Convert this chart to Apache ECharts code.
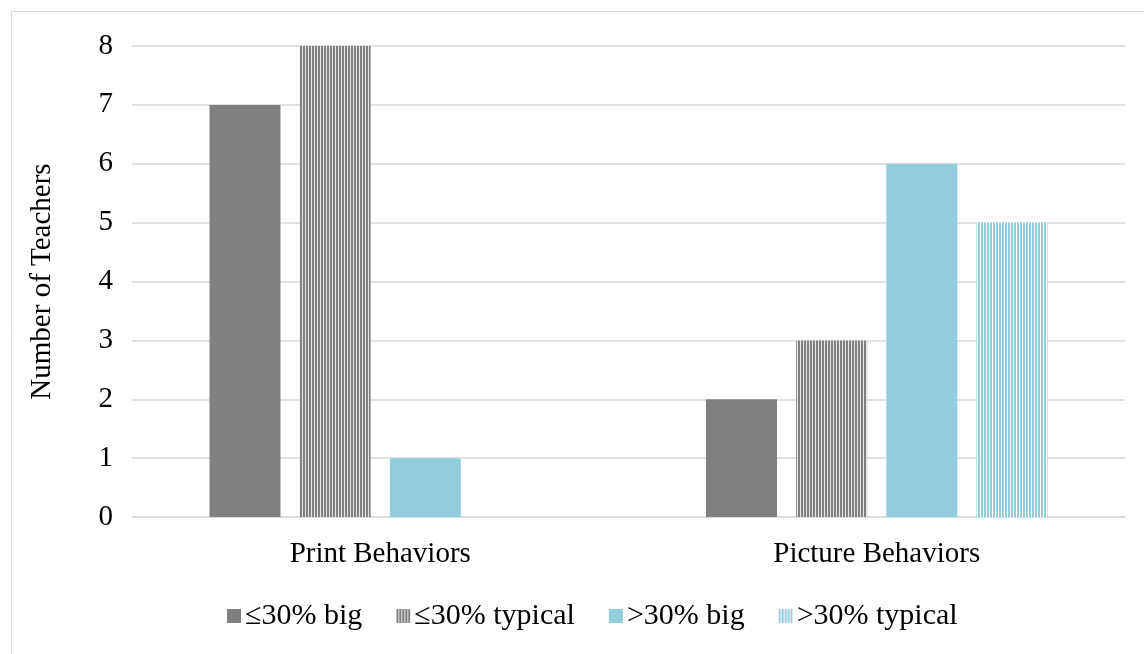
<!DOCTYPE html>
<html><head><meta charset="utf-8">
<script src="https://cdn.jsdelivr.net/npm/echarts@6/dist/echarts.min.js"></script>
<style>html,body{margin:0;padding:0;background:#fff}#c{width:1144px;height:654px}</style>
</head><body><div id="c"></div>
<script>
const categories = ['Print Behaviors', 'Picture Behaviors'];
const seriesNames = ['≤30% big', '≤30% typical', '>30% big', '>30% typical'];
const smallBig = [7, 2];
const smallTypical = [8, 3];
const largeBig = [1, 6];
const largeTypical = [0, 5];
const yTicks = [0, 1, 2, 3, 4, 5, 6, 7, 8];
const yTitle = 'Number of Teachers';

function stripe(fg, bg) {
  const c = document.createElement('canvas');
  c.width = 3; c.height = 4;
  const g = c.getContext('2d');
  g.fillStyle = bg; g.fillRect(0, 0, 3, 4);
  g.fillStyle = fg; g.fillRect(0, 0, 2, 4);
  return { image: c, repeat: 'repeat' };
}
const gray = '#808080', blue = '#92CDDC';
const font = 'Liberation Serif, Times New Roman, serif';
const chart = echarts.init(document.getElementById('c'));
const data = [smallBig, smallTypical, largeBig, largeTypical];
const colors = [gray, stripe(gray, '#e6e6e6'), blue, stripe(blue, '#ffffff')];
chart.setOption({
  animation: false,
  textStyle: { fontFamily: font },
  graphic: [{ type: 'rect', shape: { x: 11.5, y: 11.5, width: 1200, height: 700 }, style: { fill: 'none', stroke: '#d9d9d9', lineWidth: 1 } }],
  grid: { left: 132, right: 19, top: 46, bottom: 137 },
  legend: {
    top: 596, left: 222, itemWidth: 14, itemHeight: 14, itemGap: 34,
    textStyle: { fontSize: 30, color: '#000', fontFamily: font, padding: [0, 0, 0, -1] },
    data: seriesNames.map(n => ({ name: n, icon: 'rect' }))
  },
  xAxis: {
    type: 'category', data: categories,
    axisLine: { lineStyle: { color: '#d9d9d9', width: 1.5 } }, axisTick: { show: false },
    axisLabel: { fontSize: 29, color: '#000', margin: 23, fontFamily: font }
  },
  yAxis: {
    type: 'value', min: 0, max: 8, interval: 1,
    name: yTitle, nameLocation: 'middle', nameGap: 75, nameRotate: 90,
    nameTextStyle: { fontSize: 29, color: '#000', fontFamily: font },
    axisLabel: { fontSize: 29, color: '#000', margin: 19, fontFamily: font, formatter: v => yTicks.includes(v) ? String(v) : '' },
    splitLine: { lineStyle: { color: '#d9d9d9', width: 1.5 } }
  },
  series: seriesNames.map((n, i) => ({
    name: n, type: 'bar', data: data[i], barWidth: 71, barGap: '27%',
    itemStyle: { color: colors[i] }
  }))
});
</script></body></html>
